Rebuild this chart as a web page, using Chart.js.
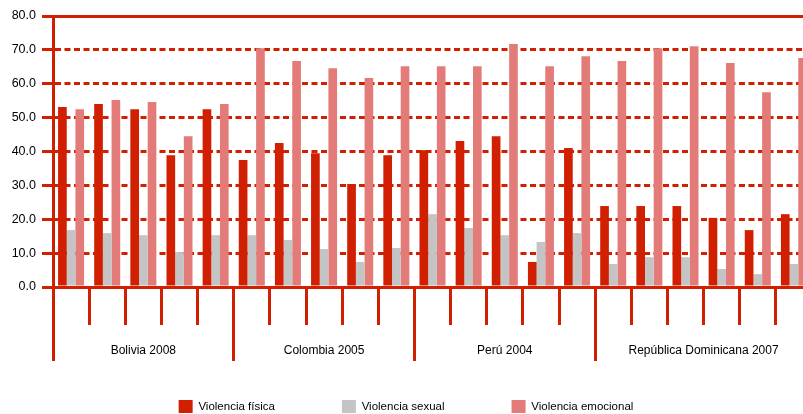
<!DOCTYPE html>
<html>
<head>
<meta charset="utf-8">
<script src="https://cdn.jsdelivr.net/npm/chart.js@4.4.1/dist/chart.umd.min.js"></script>
<style>
  html, body { margin: 0; padding: 0; background: #fff; overflow: hidden; }
  #wrap { position: relative; width: 812px; height: 414px; }
</style>
</head>
<body>
<div id="wrap"><canvas id="chart"></canvas></div>
<script>
// ---- data ----
const COUNTRIES = ['Bolivia 2008', 'Colombia 2005', 'Perú 2004', 'República Dominicana 2007'];
const GROUP_SIZES = [5, 5, 5, 6];
const SUB_LABELS = ['', '', '', '', '', '', '', '', '', '', '', '', '', '', '', '', '', '', '', '', ''];
const FISICA    = [53.1, 54.0, 52.5, 38.9, 52.5, 37.5, 42.5, 39.5, 30.4, 38.9, 40.4, 43.1, 44.5, 7.4, 41.0, 23.9, 23.9, 23.9, 20.4, 16.8, 21.5];
const SEXUAL    = [16.8, 15.9, 15.3, 10.3, 15.3, 15.3, 13.9, 11.2, 7.4, 11.5, 21.5, 17.4, 15.3, 13.3, 15.9, 6.8, 8.8, 8.8, 5.3, 3.8, 6.8];
const EMOCIONAL = [52.5, 55.2, 54.6, 44.5, 54.0, 70.5, 66.7, 64.6, 61.7, 65.2, 65.2, 65.2, 71.7, 65.2, 68.1, 66.7, 70.5, 71.1, 66.1, 57.5, 67.6];
const SERIES_NAMES = ['Violencia física', 'Violencia sexual', 'Violencia emocional'];
const Y_TICKS = [0, 10, 20, 30, 40, 50, 60, 70, 80];

const RED = '#d11f02', GRAY = '#c4c4c4', PINK = '#e37c79';
const FONT = 'Liberation Sans, Arial, sans-serif';

// divider positions and label centres for the country axis
const dividers = [], mids = [];
let start = -0.5;
GROUP_SIZES.forEach(n => {
  dividers.push(start);
  mids.push(start + n / 2);
  start += n;
});
dividers.push(start);
const countryAt = v => { const i = mids.indexOf(v); return i >= 0 ? COUNTRIES[i] : ''; };

Chart.defaults.font.family = FONT;
Chart.defaults.color = '#000';

new Chart(document.getElementById('chart'), {
  type: 'bar',
  data: {
    labels: SUB_LABELS,
    datasets: [
      { label: SERIES_NAMES[0], data: FISICA, backgroundColor: RED },
      { label: SERIES_NAMES[1], data: SEXUAL, backgroundColor: GRAY },
      { label: SERIES_NAMES[2], data: EMOCIONAL, backgroundColor: PINK }
    ]
  },
  options: {
    responsive: true, maintainAspectRatio: false, animation: false,
    layout: { padding: { top: 16, right: 0, left: 0, bottom: -9 } },
    datasets: { bar: { categoryPercentage: 0.72, barPercentage: 1.0 } },
    plugins: {
      tooltip: { enabled: false },
      legend: {
        position: 'bottom',
        labels: { boxWidth: 14, boxHeight: 13, padding: 67, font: { size: 11.5 }, color: '#000' }
      }
    },
    scales: {
      y: {
        min: 0, max: 80,
        afterBuildTicks: s => { s.ticks = Y_TICKS.map(v => ({ value: v })); },
        afterFit: s => { s.width = 53; },
        ticks: { callback: v => v.toFixed(1), padding: 6, font: { size: 12.5 }, color: '#000' },
        grid: {
          color: c => (c.tick && (c.tick.value === 80 || c.tick.value === 0)) ? 'rgba(0,0,0,0)' : RED,
          tickColor: RED, lineWidth: 3, tickLength: 11
        },
        border: { display: true, color: RED, width: 3, dash: [6, 3.5] }
      },
      x: {
        weight: 0,
        ticks: { display: false },
        grid: { drawOnChartArea: false, offset: true, color: RED, lineWidth: 3, tickLength: 38 },
        border: { display: true, color: RED, width: 3 }
      },
      xCountry: {
        type: 'linear', position: 'bottom', weight: 1, offset: false,
        min: dividers[0], max: dividers[dividers.length - 1],
        afterBuildTicks: s => { s.ticks = dividers.concat(mids).sort((a, b) => a - b).map(v => ({ value: v })); },
        afterFit: s => { s.height = 8; },
        ticks: { autoSkip: false, maxRotation: 0, mirror: true, padding: -33, font: { size: 12 }, color: '#000', callback: v => countryAt(v) },
        grid: {
          offset: false, drawOnChartArea: false, lineWidth: 3, tickLength: 36,
          color: c => (c.tick && dividers.includes(c.tick.value)) ? RED : 'rgba(0,0,0,0)'
        },
        border: { display: false }
      },
      xTop: {
        type: 'category', position: 'top', offset: false,
        ticks: { display: false },
        grid: { display: false, drawTicks: false, offset: false },
        border: { display: true, color: RED, width: 3 }
      }
    }
  }
});
</script>
</body>
</html>
